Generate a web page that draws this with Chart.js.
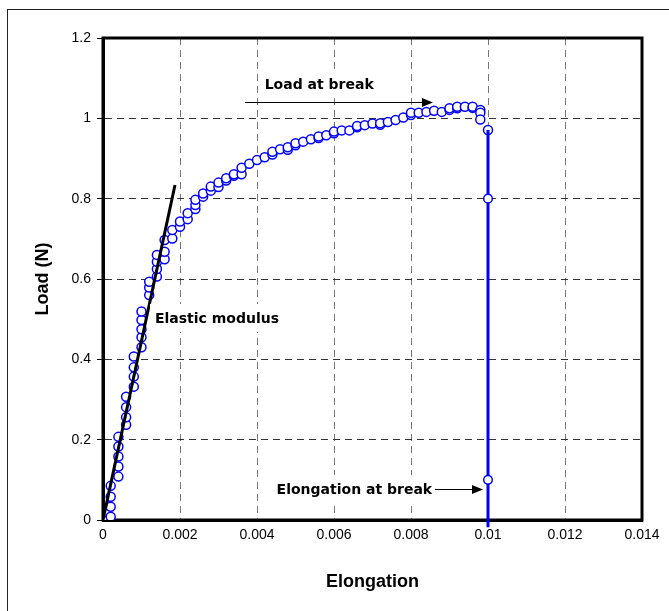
<!DOCTYPE html>
<html>
<head>
<meta charset="utf-8">
<script src="https://cdn.jsdelivr.net/npm/chart.js@4.4.0/dist/chart.umd.min.js"></script>
<style>
  html, body { margin: 0; padding: 0; background: #fff; }
  #wrap { width: 669px; height: 611px; }
</style>
</head>
<body>
<div id="wrap"><canvas id="c" width="669" height="611"></canvas></div>
<script>
// Tensile test: measured load vs elongation
const elongation = [
  0, 0.0002, 0.0002, 0.0002, 0.0002,
  0.0004, 0.0004, 0.0004, 0.0004, 0.0004,
  0.0006, 0.0006, 0.0006, 0.0006,
  0.0008, 0.0008, 0.0008, 0.0008,
  0.001, 0.001, 0.001, 0.001, 0.001,
  0.0012, 0.0012, 0.0012,
  0.0014, 0.0014, 0.0014, 0.0014,
  0.0016, 0.0016, 0.0016,
  0.0018, 0.0018,
  0.002, 0.002,
  0.0022, 0.0022,
  0.0024, 0.0024, 0.0024,
  0.0026, 0.0026,
  0.0028, 0.0028,
  0.003, 0.003,
  0.0032, 0.0032,
  0.0034, 0.0034,
  0.0036, 0.0036,
  0.0038,
  0.004,
  0.0042,
  0.0044, 0.0044,
  0.0046,
  0.0048, 0.0048,
  0.005, 0.005,
  0.0052,
  0.0054,
  0.0056, 0.0056,
  0.0058,
  0.006, 0.006,
  0.0062,
  0.0064,
  0.0066, 0.0066,
  0.0068,
  0.007,
  0.0072, 0.0072,
  0.0074,
  0.0076,
  0.0078,
  0.008, 0.008,
  0.0082,
  0.0084,
  0.0086,
  0.0088,
  0.009, 0.009,
  0.0092, 0.0092,
  0.0094,
  0.0096, 0.0096,
  0.0098, 0.0098, 0.0098,
  0.01
];
const load = [
  0, 0.008, 0.033, 0.058, 0.085,
  0.108, 0.133, 0.158, 0.183, 0.207,
  0.237, 0.256, 0.281, 0.307,
  0.332, 0.357, 0.38, 0.407,
  0.43, 0.455, 0.475, 0.498, 0.519,
  0.56, 0.579, 0.593,
  0.606, 0.625, 0.643, 0.66,
  0.649, 0.668, 0.697,
  0.701, 0.722,
  0.73, 0.743,
  0.749, 0.764,
  0.774, 0.784, 0.797,
  0.805, 0.813,
  0.82, 0.83,
  0.829, 0.84,
  0.845, 0.851,
  0.857, 0.861,
  0.861, 0.877,
  0.887,
  0.896,
  0.903,
  0.91, 0.917,
  0.923,
  0.922, 0.928,
  0.933, 0.938,
  0.942,
  0.948,
  0.951, 0.955,
  0.958,
  0.963, 0.967,
  0.97,
  0.97,
  0.978, 0.981,
  0.983,
  0.987,
  0.984, 0.988,
  0.991,
  0.996,
  1.002,
  1.008, 1.014,
  1.014,
  1.016,
  1.019,
  1.016,
  1.021, 1.025,
  1.025, 1.029,
  1.029,
  1.026, 1.029,
  1.021, 1.014, 0.997,
  0.971
];

// Drop of the load at rupture
const breakElongation = [0.01, 0.01, 0.01, 0.01];
const breakLoad = [0.971, 0.80, 0.10, -0.018];
const breakMarker = [0, 4.3, 4.3, 0];

// Tangent to the linear part (elastic modulus)
const modulusElongation = [0, 0.00187];
const modulusLoad = [0, 0.834];

// Axis ranges and tick steps
const xRange = [0, 0.014];
const xStep = 0.002;
const yRange = [0, 1.2];
const yStep = 0.2;

const xTitle = 'Elongation';
const yTitle = 'Load (N)';

// Callout texts with their anchor (data units) and arrows
const callouts = [
  { text: 'Load at break', x: 0.0042, y: 1.085, align: 'left' },
  { text: 'Elastic modulus', x: 0.00135, y: 0.503, align: 'left' },
  { text: 'Elongation at break', x: 0.00855, y: 0.0772, align: 'right' }
];
const arrows = [
  { x0: 0.00369, x1: 0.00857, y: 1.0406 },
  { x0: 0.00862, x1: 0.00987, y: 0.0772 }
];

const toPoints = (xs, ys) => xs.map((x, i) => ({ x, y: ys[i] }));
const fmt = (v, d) => String(Number(v.toFixed(d)));

const frame = {
  id: 'frame',
  beforeDraw(chart) {
    const ctx = chart.ctx;
    ctx.save();
    ctx.fillStyle = '#fff';
    ctx.fillRect(0, 0, chart.width, chart.height);
    ctx.strokeStyle = '#222';
    ctx.lineWidth = 1;
    ctx.strokeRect(7.5, 9.5, 720, 720);
    ctx.restore();
  },
  beforeDatasetsDraw(chart) {
    const { ctx, chartArea: a } = chart;
    ctx.save();
    ctx.strokeStyle = '#000';
    ctx.lineWidth = 3;
    ctx.strokeRect(a.left, a.top, a.right - a.left, a.bottom - a.top);
    ctx.restore();
  },
  afterDatasetsDraw(chart) {
    const { ctx } = chart;
    const xs = chart.scales.x, ys = chart.scales.y;
    ctx.save();
    ctx.font = 'bold 14px "DejaVu Sans", sans-serif';
    ctx.textBaseline = 'middle';
    callouts.forEach(c => {
      const px = xs.getPixelForValue(c.x);
      const py = ys.getPixelForValue(c.y);
      const w = ctx.measureText(c.text).width;
      const left = c.align === 'left' ? px : px - w;
      ctx.fillStyle = '#fff';
      ctx.fillRect(left - 5, py - 14, w + 10, 28);
      ctx.fillStyle = '#000';
      ctx.textAlign = 'left';
      ctx.fillText(c.text, left, py + 1);
    });
    ctx.strokeStyle = '#000';
    ctx.fillStyle = '#000';
    ctx.lineWidth = 1.2;
    arrows.forEach(r => {
      const x0 = xs.getPixelForValue(r.x0);
      const x1 = xs.getPixelForValue(r.x1);
      const y = Math.round(ys.getPixelForValue(r.y)) + 0.5;
      ctx.beginPath();
      ctx.moveTo(x0, y);
      ctx.lineTo(x1 - 9, y);
      ctx.stroke();
      ctx.beginPath();
      ctx.moveTo(x1, y);
      ctx.lineTo(x1 - 11, y - 4.5);
      ctx.lineTo(x1 - 11, y + 4.5);
      ctx.closePath();
      ctx.fill();
    });
    ctx.restore();
  }
};

new Chart(document.getElementById('c'), {
  type: 'scatter',
  data: {
    datasets: [
      {
        label: 'Load',
        data: toPoints(elongation, load),
        showLine: false,
        pointRadius: 4.5,
        pointBorderWidth: 1.5,
        pointBorderColor: '#0000ff',
        pointBackgroundColor: '#ffffff',
        order: 3
      },
      {
        label: 'Break',
        data: toPoints(breakElongation, breakLoad),
        showLine: true,
        borderColor: '#0000ff',
        borderWidth: 3,
        pointRadius: breakMarker,
        pointBorderWidth: 1.5,
        pointBorderColor: '#0000ff',
        pointBackgroundColor: '#ffffff',
        clip: false,
        order: 2
      },
      {
        label: 'Modulus',
        data: toPoints(modulusElongation, modulusLoad),
        showLine: true,
        borderColor: '#000000',
        borderWidth: 3,
        pointRadius: 0,
        order: 1
      }
    ]
  },
  options: {
    responsive: false,
    animation: false,
    devicePixelRatio: 1,
    layout: { padding: { left: 0, top: 38, right: 27, bottom: 0 } },
    plugins: { legend: { display: false }, tooltip: { enabled: false } },
    scales: {
      x: {
        type: 'linear',
        min: xRange[0], max: xRange[1],
        afterFit(s) { s.height = 91; },
        ticks: {
          stepSize: xStep,
          color: '#000',
          font: { family: 'Liberation Sans, Arial, sans-serif', size: 14 },
          padding: 7,
          maxRotation: 0,
          callback: v => fmt(v, 3)
        },
        grid: {
          color: '#777',
          lineWidth: 1,
          drawTicks: false,
          tickLength: 0
        },
        border: { display: true, color: '#000', width: 3, dash: [7, 5] },
        title: {
          display: true, text: xTitle, color: '#000',
          font: { family: 'Liberation Sans, Arial, sans-serif', size: 18, weight: 'bold' },
          padding: { top: 0, bottom: 18 }
        }
      },
      y: {
        type: 'linear',
        min: yRange[0], max: yRange[1],
        afterFit(s) { s.width = 103; },
        ticks: {
          stepSize: yStep,
          color: '#000',
          font: { family: 'Liberation Sans, Arial, sans-serif', size: 14 },
          padding: 6,
          callback: v => fmt(v, 1)
        },
        grid: {
          color: '#333',
          lineWidth: 1,
          tickLength: 6,
          tickColor: '#000',
          tickBorderDash: [],
          tickWidth: 1
        },
        border: { display: true, color: '#000', width: 3, dash: [7, 5] },
        title: {
          display: true, text: yTitle, color: '#000',
          font: { family: 'Liberation Sans, Arial, sans-serif', size: 18, weight: 'bold' },
          padding: { top: 32, bottom: 0 }
        }
      }
    }
  },
  plugins: [frame]
});
</script>
</body>
</html>
